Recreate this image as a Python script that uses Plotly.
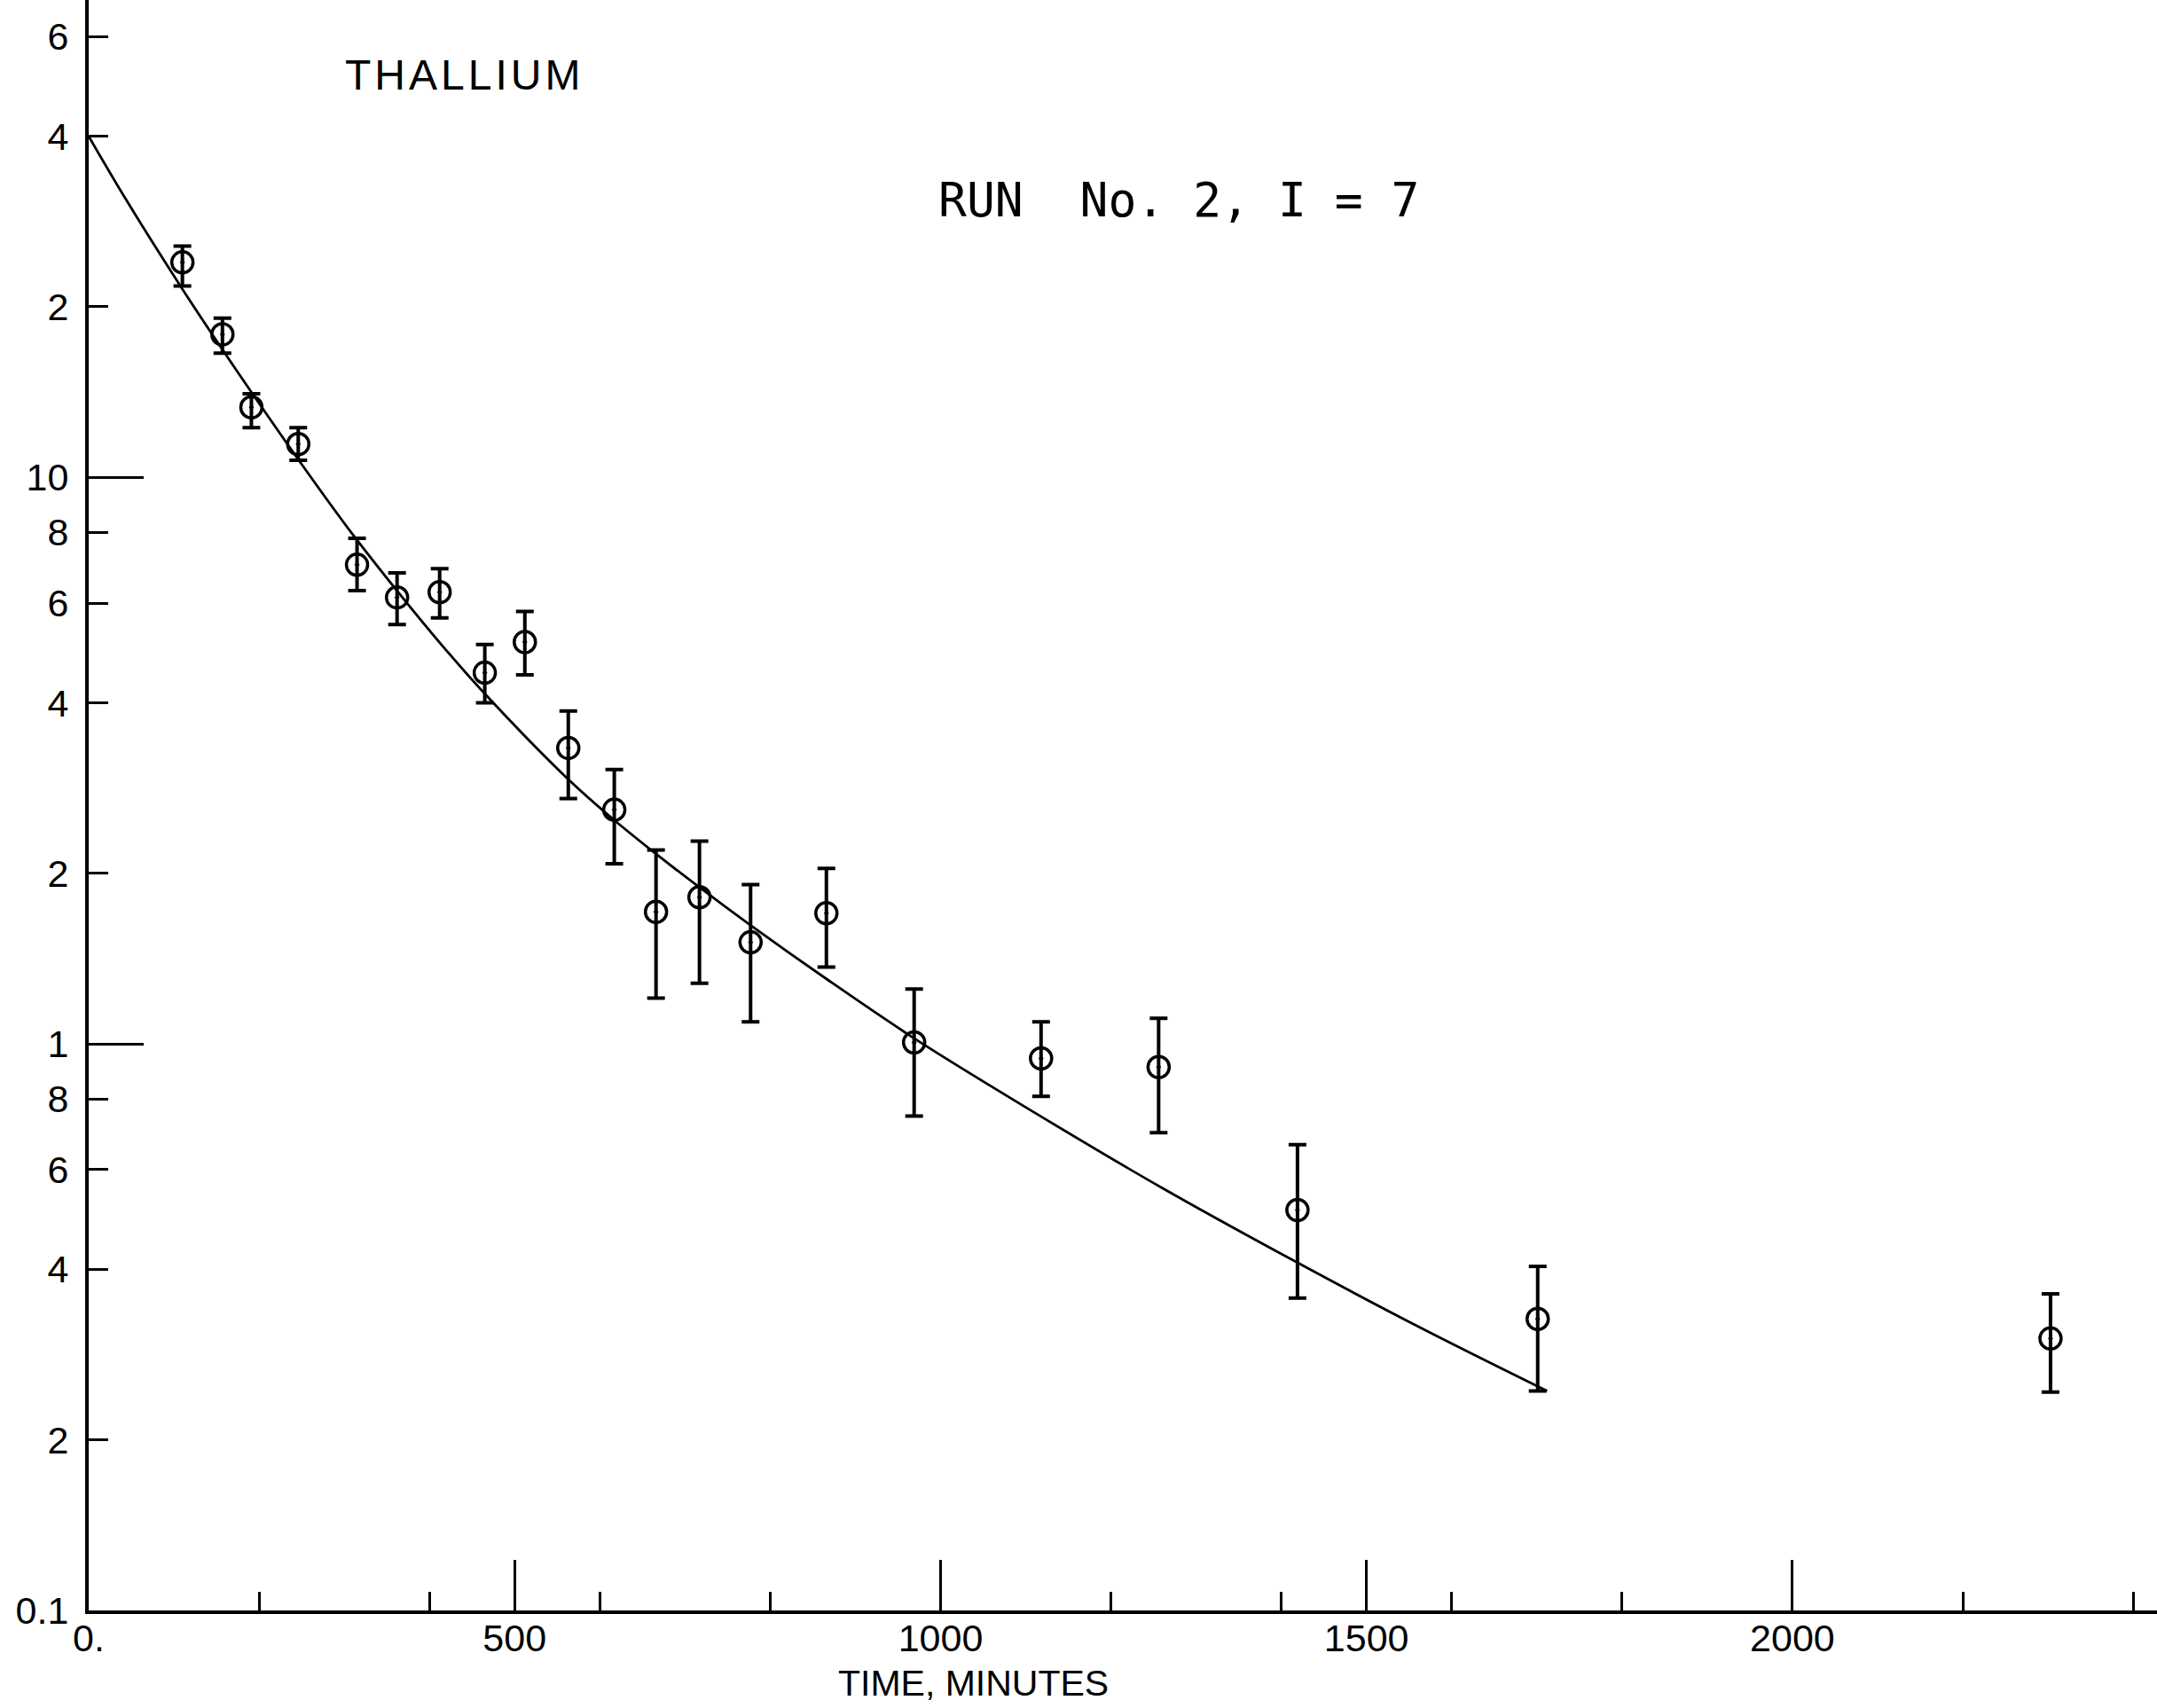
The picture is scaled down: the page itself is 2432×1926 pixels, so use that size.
import plotly.graph_objects as go

# ---- data ----
time_min = [110, 157, 191, 246, 315, 362, 412, 465, 512, 563, 617, 666, 717, 777,
            866, 969, 1118, 1256, 1419, 1701, 2303]
activity = [23.96, 17.88, 13.30, 11.45, 7.01, 6.14, 6.27, 4.52, 5.12, 3.33, 2.59,
            1.71, 1.815, 1.511, 1.701, 1.006, 0.943, 0.910, 0.509, 0.327, 0.302]
upper = [25.6, 19.1, 14.05, 12.24, 7.81, 6.78, 6.90, 5.07, 5.80, 3.87, 3.05,
         2.20, 2.28, 1.91, 2.04, 1.25, 1.094, 1.110, 0.664, 0.405, 0.362]
lower = [21.77, 16.57, 12.24, 10.72, 6.31, 5.50, 5.65, 4.00, 4.48, 2.71, 2.08,
         1.205, 1.279, 1.094, 1.366, 0.746, 0.808, 0.697, 0.356, 0.244, 0.243]

fit_time = [0, 44, 110, 156, 193, 249, 304, 363, 412, 465, 561, 616, 665, 723,
            777, 870, 969, 1100, 1260, 1419, 1559, 1712]
fit_value = [40.0, 30.9, 21.5, 16.9, 14.0, 10.6, 8.15, 6.28, 5.11, 4.15, 2.95,
             2.49, 2.17, 1.86, 1.62, 1.29, 1.023, 0.773, 0.557, 0.411, 0.318, 0.244]

y_tickvals = [60, 40, 20, 10, 8, 6, 4, 2, 1, 0.8, 0.6, 0.4, 0.2, 0.1]
y_ticktext = ["6", "4", "2", "10", "8", "6", "4", "2", "1", "8", "6", "4", "2", "0.1"]
y_long_ticks = [10, 1]
x_major = [0, 500, 1000, 1500, 2000]
x_major_text = ["0.", "500", "1000", "1500", "2000"]
x_minor = [200, 400, 600, 800, 1200, 1400, 1600, 1800, 2200, 2400]

# ---- figure ----
err_plus = [u - v for u, v in zip(upper, activity)]
err_minus = [v - l for v, l in zip(activity, lower)]

W, H = 2432, 1926
L, R, T, B = 100, 0, 0, 110
YRANGE = [-1, 1.8426]
XRANGE = [0, 2428]
FONT = "Liberation Sans, Arial, sans-serif"
TICKFONT = "Liberation Sans, Arial, sans-serif"

fig = go.Figure()
fig.add_trace(go.Scatter(
    x=fit_time, y=fit_value, mode="lines", yaxis="y2",
    line=dict(color="black", width=2.8, shape="spline", smoothing=1.0),
    hoverinfo="skip", showlegend=False))
fig.add_trace(go.Scatter(
    x=time_min, y=activity, mode="markers",
    marker=dict(symbol="circle-open-dot", size=24, color="black",
                line=dict(color="black", width=3.5)),
    error_y=dict(type="data", symmetric=False, array=err_plus,
                 arrayminus=err_minus, color="black", thickness=4, width=10),
    showlegend=False, cliponaxis=False))

fig.update_layout(
    width=W, height=H,
    margin=dict(l=L, r=R, t=T, b=B, pad=0),
    paper_bgcolor="white", plot_bgcolor="white",
    font=dict(family=FONT, color="black", size=40),
    xaxis=dict(range=XRANGE, showgrid=False, zeroline=False,
               showline=True, linecolor="black", linewidth=4,
               tickmode="array", tickvals=x_major, ticktext=x_major_text,
               ticks="inside", ticklen=57, tickwidth=3, tickcolor="black",
               ticklabelstandoff=-10,
               tickfont=dict(size=43, family=TICKFONT),
               minor=dict(tickmode="array", tickvals=x_minor, ticks="inside",
                          ticklen=21, tickwidth=3, tickcolor="black",
                          showgrid=False)),
    yaxis=dict(type="log", range=YRANGE, showgrid=False, zeroline=False,
               showline=True, linecolor="black", linewidth=4,
               tickmode="array", tickvals=y_tickvals, ticktext=y_ticktext,
               ticks="inside", ticklen=22, tickwidth=3, tickcolor="black",
               ticklabelstandoff=10,
               tickfont=dict(size=43, family=TICKFONT)),
    yaxis2=dict(type="log", range=YRANGE, overlaying="y", side="left",
                anchor="x", showgrid=False, zeroline=False, showline=False,
                tickmode="array", tickvals=y_long_ticks,
                ticks="inside", ticklen=62, tickwidth=3, tickcolor="black",
                showticklabels=False),
)

pw = W - L - R
ph = H - T - B

def px(xp):
    return (xp - L) / pw

def py(yp):
    return 1 - (yp - T) / ph

HS = "\u200a"
fig.add_annotation(text=HS.join("THALLIUM"), x=px(521), y=py(84), xref="paper", yref="paper",
                   showarrow=False, xanchor="center", yanchor="middle",
                   font=dict(size=48, family=FONT, color="black"))
fig.add_annotation(text="RUN\u00a0\u00a0No.\u00a02,\u00a0I\u00a0=\u00a07",
                   x=px(1056), y=py(225), xref="paper", yref="paper",
                   showarrow=False, xanchor="left", yanchor="middle",
                   font=dict(size=53, family="DejaVu Sans Mono, monospace", color="black"))
fig.add_annotation(text="TIME, MINUTES", x=px(1097), y=py(1898), xref="paper", yref="paper",
                   showarrow=False, xanchor="center", yanchor="middle",
                   font=dict(size=41, family=FONT, color="black"))

fig.write_html("out.html")
